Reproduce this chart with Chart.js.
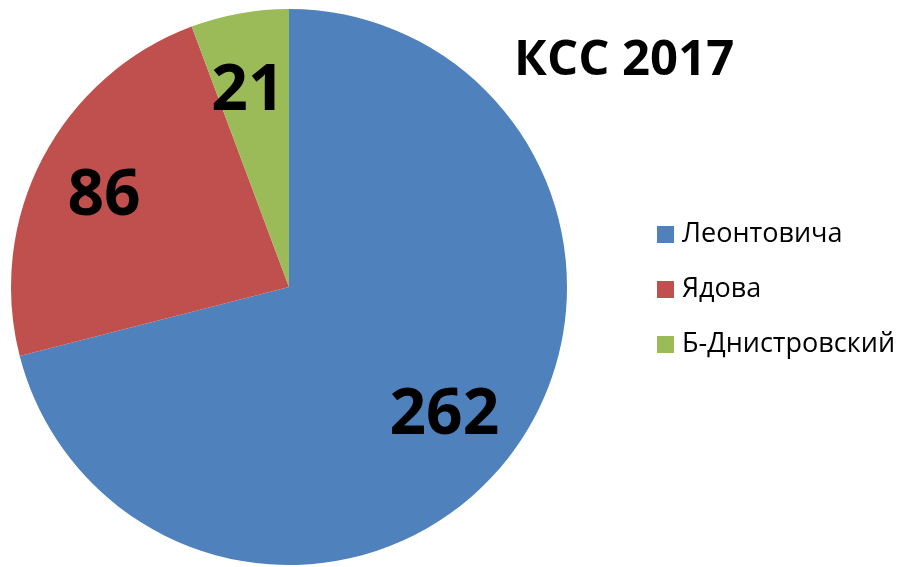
<!DOCTYPE html>
<html>
<head>
<meta charset="utf-8">
<script src="https://cdn.jsdelivr.net/npm/chart.js@4/dist/chart.umd.min.js"></script>
<style>
  html, body { margin: 0; padding: 0; background: #ffffff; }
  #wrap { width: 907px; height: 567px; }
</style>
</head>
<body>
<div id="wrap"><canvas id="pieChart"></canvas></div>
<script>
const chartTitle = 'КСС 2017';
const labels = ['Леонтовича', 'Ядова', 'Б-Днистровский'];
const values = [262, 86, 21];
const colors = ['#4F81BD', '#C0504D', '#9BBB59'];

// value labels inside the slices
const sliceLabelPlugin = {
  id: 'slice_labels',
  afterDatasetsDraw: function(chart) {
    const ctx = chart.ctx;
    const meta = chart.getDatasetMeta(0);
    ctx.save();
    ctx.fillStyle = '#000000';
    ctx.font = 'bold 64px "Open Sans"';
    ctx.textAlign = 'center';
    ctx.textBaseline = 'middle';
    meta.data.forEach(function(arc, i) {
      const mid = (arc.startAngle + arc.endAngle) / 2;
      const r = arc.outerRadius * 0.73;
      ctx.fillText(String(values[i]), arc.x + Math.cos(mid) * r - 5, arc.y + Math.sin(mid) * r + 4);
    });
    ctx.restore();
  }
};

// title and legend on the right
const sideTextPlugin = {
  id: 'side_text',
  afterDraw: function(chart) {
    const ctx = chart.ctx;
    ctx.save();
    ctx.fillStyle = '#000000';
    ctx.font = 'bold 49px "Open Sans"';
    ctx.textAlign = 'left';
    ctx.textBaseline = 'middle';
    ctx.fillText(chartTitle, 514, 61);

    ctx.font = '27px "Open Sans"';
    chart.data.labels.forEach(function(label, i) {
      const y = 234 + i * 55;
      ctx.fillStyle = chart.data.datasets[0].backgroundColor[i];
      ctx.fillRect(657, y - 8, 17, 17);
      ctx.fillStyle = '#000000';
      ctx.fillText(label, 682, y);
    });
    ctx.restore();
  }
};

new Chart(document.getElementById('pieChart'), {
  type: 'pie',
  data: {
    labels: labels,
    datasets: [{
      data: values,
      backgroundColor: colors,
      borderWidth: 0
    }]
  },
  options: {
    responsive: true,
    maintainAspectRatio: false,
    animation: false,
    layout: {
      padding: { left: 11, right: 340, top: 9, bottom: 2 }
    },
    plugins: {
      legend: { display: false },
      tooltip: { enabled: false }
    }
  },
  plugins: [sliceLabelPlugin, sideTextPlugin]
});
</script>
</body>
</html>
